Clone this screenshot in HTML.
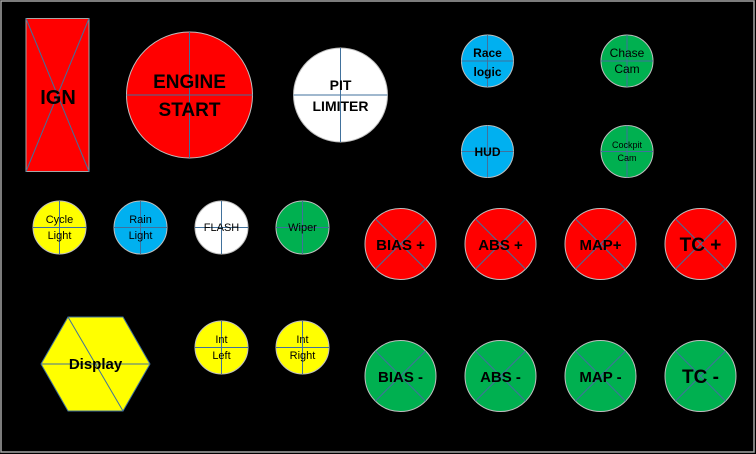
<!DOCTYPE html>
<html><head><meta charset="utf-8"><style>
html,body{margin:0;padding:0;background:#000;}
svg{display:block;}
text{font-family:"Liberation Sans",sans-serif;font-weight:bold;fill:#000;text-anchor:middle;}
.n{font-weight:normal;}
</style></head><body>
<svg width="756" height="454" viewBox="0 0 756 454" xmlns="http://www.w3.org/2000/svg">
<rect x="0" y="0" width="756" height="454" fill="#000"/>
<rect x="1" y="1" width="753" height="451" fill="none" stroke="#a6a6a6" stroke-width="1.5"/>

<rect x="26" y="18.5" width="63" height="153" fill="#ff0000" stroke="#a6a6a6" stroke-width="1"/>
<line x1="26" y1="18.5" x2="89" y2="171.5" stroke="#41719c" stroke-width="1"/>
<line x1="89" y1="18.5" x2="26" y2="171.5" stroke="#41719c" stroke-width="1"/>
<text x="58" y="104" font-size="20">IGN</text>

<circle cx="189.5" cy="95" r="63" fill="#ff0000" stroke="#bfbfbf" stroke-width="1"/>
<line x1="126.5" y1="95" x2="252.5" y2="95" stroke="#41719c"/>
<line x1="189.5" y1="32" x2="189.5" y2="158" stroke="#41719c"/>
<text x="189.5" y="88" font-size="19">ENGINE</text>
<text x="189.5" y="116" font-size="19">START</text>

<circle cx="340.5" cy="95" r="47" fill="#ffffff" stroke="#bfbfbf" stroke-width="1"/>
<line x1="293.5" y1="95" x2="387.5" y2="95" stroke="#41719c"/>
<line x1="340.5" y1="48" x2="340.5" y2="142" stroke="#41719c"/>
<text x="340.5" y="90" font-size="14">PIT</text>
<text x="340.5" y="111" font-size="14">LIMITER</text>

<g stroke="#41719c" stroke-width="1">
<circle cx="487.5" cy="61" r="26" fill="#00b0f0" stroke="#bfbfbf"/>
<line x1="461.5" y1="61" x2="513.5" y2="61"/><line x1="487.5" y1="35" x2="487.5" y2="87"/>
<circle cx="627" cy="61" r="26" fill="#00b050" stroke="#bfbfbf"/>
<line x1="601" y1="61" x2="653" y2="61"/><line x1="627" y1="35" x2="627" y2="87"/>
<circle cx="487.5" cy="151.5" r="26" fill="#00b0f0" stroke="#bfbfbf"/>
<line x1="461.5" y1="151.5" x2="513.5" y2="151.5"/><line x1="487.5" y1="125.5" x2="487.5" y2="177.5"/>
<circle cx="627" cy="151.5" r="26" fill="#00b050" stroke="#bfbfbf"/>
<line x1="601" y1="151.5" x2="653" y2="151.5"/><line x1="627" y1="125.5" x2="627" y2="177.5"/>

<circle cx="59.5" cy="227.5" r="26.5" fill="#ffff00" stroke="#bfbfbf"/>
<line x1="33" y1="227.5" x2="86" y2="227.5"/><line x1="59.5" y1="201" x2="59.5" y2="254"/>
<circle cx="140.5" cy="227.5" r="26.5" fill="#00b0f0" stroke="#bfbfbf"/>
<line x1="114" y1="227.5" x2="167" y2="227.5"/><line x1="140.5" y1="201" x2="140.5" y2="254"/>
<circle cx="221.5" cy="227.5" r="26.5" fill="#ffffff" stroke="#bfbfbf"/>
<line x1="195" y1="227.5" x2="248" y2="227.5"/><line x1="221.5" y1="201" x2="221.5" y2="254"/>
<circle cx="302.5" cy="227.5" r="26.5" fill="#00b050" stroke="#bfbfbf"/>
<line x1="276" y1="227.5" x2="329" y2="227.5"/><line x1="302.5" y1="201" x2="302.5" y2="254"/>

<circle cx="221.5" cy="347.5" r="26.5" fill="#ffff00" stroke="#bfbfbf"/>
<line x1="195" y1="347.5" x2="248" y2="347.5"/><line x1="221.5" y1="321" x2="221.5" y2="374"/>
<circle cx="302.5" cy="347.5" r="26.5" fill="#ffff00" stroke="#bfbfbf"/>
<line x1="276" y1="347.5" x2="329" y2="347.5"/><line x1="302.5" y1="321" x2="302.5" y2="374"/>

<polygon points="41,364 68,317 123,317 150,364 123,411 68,411" fill="#ffff00" stroke="#41719c"/>
<line x1="41" y1="364" x2="150" y2="364"/><line x1="68" y1="317" x2="123" y2="411"/>
</g>

<text x="487.5" y="57" font-size="12">Race</text>
<text x="487.5" y="76" font-size="12">logic</text>
<text x="627" y="57" font-size="12" class="n">Chase</text>
<text x="627" y="73" font-size="12" class="n">Cam</text>
<text x="487.5" y="156" font-size="12">HUD</text>
<text x="627" y="148" font-size="9" class="n">Cockpit</text>
<text x="627" y="161" font-size="9" class="n">Cam</text>

<text x="59.5" y="223" font-size="11" class="n">Cycle</text>
<text x="59.5" y="239" font-size="11" class="n">Light</text>
<text x="140.5" y="223" font-size="11" class="n">Rain</text>
<text x="140.5" y="239" font-size="11" class="n">Light</text>
<text x="221.5" y="231" font-size="11" class="n">FLASH</text>
<text x="302.5" y="231" font-size="11" class="n">Wiper</text>
<text x="221.5" y="343" font-size="11" class="n">Int</text>
<text x="221.5" y="359" font-size="11" class="n">Left</text>
<text x="302.5" y="343" font-size="11" class="n">Int</text>
<text x="302.5" y="359" font-size="11" class="n">Right</text>
<text x="95.5" y="369" font-size="15">Display</text>

<g stroke="#41719c" stroke-width="1">
<circle cx="400.5" cy="244" r="35.5" fill="#ff0000" stroke="#bfbfbf"/>
<line x1="375.4" y1="218.9" x2="425.6" y2="269.1"/><line x1="425.6" y1="218.9" x2="375.4" y2="269.1"/>
<circle cx="500.5" cy="244" r="35.5" fill="#ff0000" stroke="#bfbfbf"/>
<line x1="475.4" y1="218.9" x2="525.6" y2="269.1"/><line x1="525.6" y1="218.9" x2="475.4" y2="269.1"/>
<circle cx="600.5" cy="244" r="35.5" fill="#ff0000" stroke="#bfbfbf"/>
<line x1="575.4" y1="218.9" x2="625.6" y2="269.1"/><line x1="625.6" y1="218.9" x2="575.4" y2="269.1"/>
<circle cx="700.5" cy="244" r="35.5" fill="#ff0000" stroke="#bfbfbf"/>
<line x1="675.4" y1="218.9" x2="725.6" y2="269.1"/><line x1="725.6" y1="218.9" x2="675.4" y2="269.1"/>

<circle cx="400.5" cy="376" r="35.5" fill="#00b050" stroke="#bfbfbf"/>
<line x1="375.4" y1="350.9" x2="425.6" y2="401.1"/><line x1="425.6" y1="350.9" x2="375.4" y2="401.1"/>
<circle cx="500.5" cy="376" r="35.5" fill="#00b050" stroke="#bfbfbf"/>
<line x1="475.4" y1="350.9" x2="525.6" y2="401.1"/><line x1="525.6" y1="350.9" x2="475.4" y2="401.1"/>
<circle cx="600.5" cy="376" r="35.5" fill="#00b050" stroke="#bfbfbf"/>
<line x1="575.4" y1="350.9" x2="625.6" y2="401.1"/><line x1="625.6" y1="350.9" x2="575.4" y2="401.1"/>
<circle cx="700.5" cy="376" r="35.5" fill="#00b050" stroke="#bfbfbf"/>
<line x1="675.4" y1="350.9" x2="725.6" y2="401.1"/><line x1="725.6" y1="350.9" x2="675.4" y2="401.1"/>
</g>

<text x="400.5" y="250" font-size="15">BIAS +</text>
<text x="500.5" y="250" font-size="15">ABS +</text>
<text x="600.5" y="250" font-size="15">MAP+</text>
<text x="700.5" y="251" font-size="19">TC +</text>
<text x="400.5" y="382" font-size="15">BIAS -</text>
<text x="500.5" y="382" font-size="15">ABS -</text>
<text x="600.5" y="382" font-size="15">MAP -</text>
<text x="700.5" y="383" font-size="19">TC -</text>
</svg>
</body></html>
